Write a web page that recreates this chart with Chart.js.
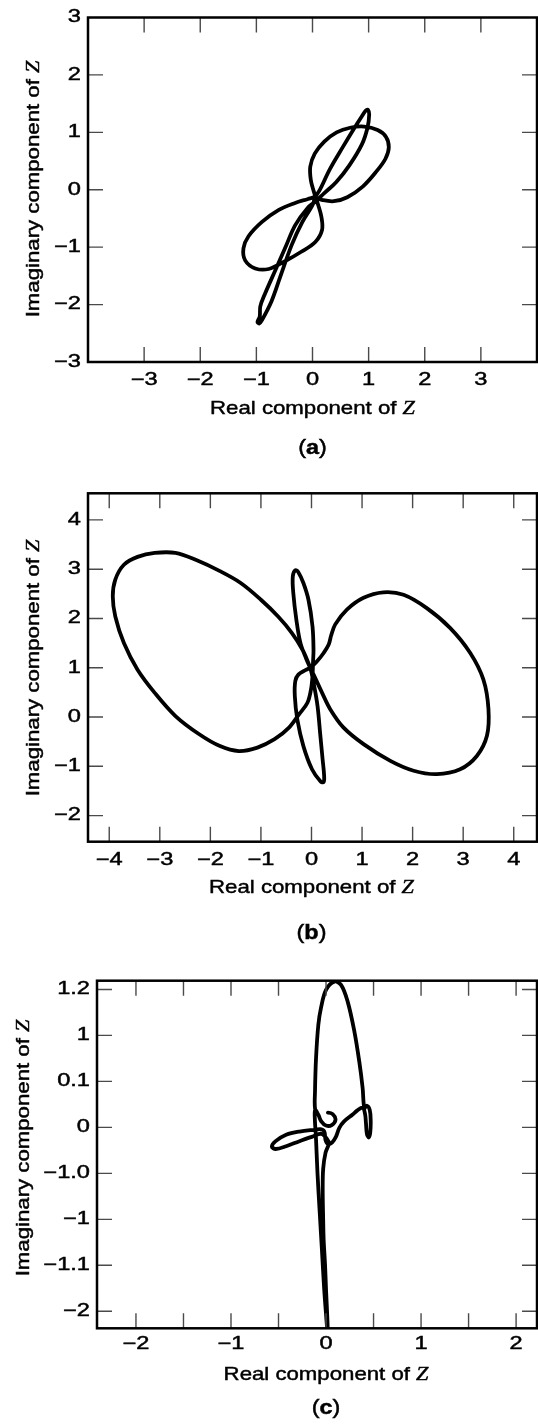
<!DOCTYPE html>
<html>
<head>
<meta charset="utf-8">
<script src="https://cdn.jsdelivr.net/npm/chart.js@4"></script>
<style>
  html, body { margin: 0; padding: 0; background: #fff; }
  #page { position: relative; width: 538px; height: 1425px; }
  canvas { position: absolute; left: 0; }
</style>
</head>
<body>
<div id="page">
  <canvas id="chartA" width="538" height="470" style="top:0;width:538px;height:470px"></canvas>
  <canvas id="chartB" width="538" height="480" style="top:470px;width:538px;height:480px"></canvas>
  <canvas id="chartC" width="538" height="485" style="top:940px;width:538px;height:485px"></canvas>
</div>
<script>
// (a) locus of Z
const realA = [0.03, 0.18, 0.38, 0.62, 0.90, 1.14, 1.30, 1.36, 1.31, 1.16, 0.92, 0.67, 0.43, 0.21, 0.04, -0.04,
  -0.03, 0.02, 0.10, 0.16, 0.17, 0.05, -0.20, -0.50, -0.78, -1.02, -1.20, -1.23, -1.14, -0.90, -0.60, -0.31,
  -0.08, 0.04, 0.12, 0.31, 0.55, 0.73, 0.88, 0.95, 0.99, 1.01, 0.98, 0.88, 0.66, 0.42, 0.21, 0.06,
  -0.09, -0.31, -0.49, -0.67, -0.85, -0.93, -0.94, -0.98, -0.95, -0.90, -0.73, -0.58, -0.37, -0.18, 0.00, 0.04];
const imagA = [-0.13, -0.18, -0.20, -0.13, 0.06, 0.32, 0.54, 0.74, 0.92, 1.04, 1.10, 1.08, 1.00, 0.84, 0.63, 0.40,
  0.17, -0.02, -0.26, -0.48, -0.70, -0.91, -1.08, -1.25, -1.38, -1.37, -1.23, -1.02, -0.81, -0.56, -0.35, -0.23,
  -0.16, -0.12, -0.02, 0.36, 0.76, 1.05, 1.28, 1.38, 1.39, 1.31, 1.08, 0.79, 0.43, 0.13, -0.06, -0.20,
  -0.32, -0.62, -1.02, -1.42, -1.82, -2.03, -2.21, -2.30, -2.33, -2.27, -1.94, -1.53, -0.96, -0.56, -0.27, -0.14];

// (b) locus of Z
const realB = [-0.02, 0.11, 0.24, 0.34, 0.39, 0.47, 0.70, 1.03, 1.42, 1.82, 2.28, 2.74, 3.14, 3.40, 3.50, 3.47,
  3.27, 2.94, 2.48, 2.02, 1.56, 1.03, 0.63, 0.37, 0.21, 0.07, -0.03, -0.18, -0.39, -0.66, -1.00, -1.40,
  -1.81, -2.29, -2.69, -3.10, -3.44, -3.71, -3.88, -3.93, -3.88, -3.71, -3.44, -3.10, -2.69, -2.22, -1.81, -1.44,
  -1.07, -0.73, -0.45, -0.25, -0.08, -0.01, 0.02, 0.03, 0.04, 0.02, -0.06, -0.16, -0.26, -0.32, -0.37, -0.36,
  -0.30, -0.22, -0.10, -0.02, 0.04, 0.12, 0.17, 0.22, 0.25, 0.24, 0.18, 0.01, -0.16, -0.28, -0.33, -0.32,
  -0.26, -0.12, -0.02];
const imagB = [1.00, 1.13, 1.30, 1.47, 1.66, 1.88, 2.18, 2.42, 2.53, 2.48, 2.21, 1.81, 1.30, 0.76, 0.16, -0.38,
  -0.79, -1.06, -1.16, -1.09, -0.89, -0.55, -0.21, 0.16, 0.49, 0.80, 1.02, 1.37, 1.71, 2.04, 2.38, 2.72,
  2.96, 3.19, 3.33, 3.33, 3.25, 3.09, 2.79, 2.45, 2.04, 1.50, 0.96, 0.49, 0.02, -0.35, -0.59, -0.69,
  -0.62, -0.45, -0.22, 0.05, 0.29, 0.56, 0.83, 1.10, 1.37, 1.84, 2.38, 2.72, 2.94, 2.98, 2.85, 2.52,
  1.98, 1.51, 1.17, 0.98, 0.70, 0.22, -0.32, -0.86, -1.19, -1.32, -1.31, -1.06, -0.59, -0.05, 0.43, 0.73,
  0.86, 0.95, 1.00];

// (c) locus of Z, imaginary part in tick steps
const realC = [0.02, 0.005, -0.02, -0.045, -0.065, -0.09, -0.105, -0.118, -0.115, -0.08, -0.05, 0.00, 0.06, 0.10,
  0.07, 0.02, 0.07, 0.10, 0.06, 0.00, -0.05, -0.08, -0.115, -0.116, -0.105, -0.081, -0.053, 0.00, 0.087, 0.158,
  0.227, 0.298, 0.35, 0.385, 0.403, 0.43, 0.46, 0.47, 0.465, 0.45, 0.43, 0.42, 0.41, 0.385, 0.33, 0.28, 0.19,
  0.14, 0.105, 0.063, 0.02, -0.005, -0.018, -0.06, -0.105, -0.28, -0.42, -0.53, -0.57, -0.53, -0.42, -0.28,
  -0.14, -0.05, 0.01, 0.03, -0.005, -0.03, -0.035, -0.03, -0.025, -0.01, 0.00, 0.015, 0.02];
const imagC = [-4.6, -4.2, -3.5, -2.6, -1.9, -0.99, -0.27, 0.20, 0.38, 0.27, 0.13, 0.04, 0.05, 0.17,
  0.29, 0.32, 0.29, 0.17, 0.05, 0.04, 0.13, 0.27, 0.40, 0.78, 1.51, 2.23, 2.60, 2.99, 3.17, 3.10,
  2.74, 2.09, 1.43, 0.86, 0.42, 0.47, 0.38, 0.15, -0.12, -0.22, -0.14, 0.10, 0.30, 0.43, 0.37, 0.28, 0.13,
  -0.01, -0.20, -0.33, -0.36, -0.28, -0.09, -0.04, -0.05, -0.09, -0.16, -0.30, -0.42, -0.47, -0.41, -0.30,
  -0.20, -0.14, -0.25, -0.35, -0.55, -0.90, -1.35, -2.00, -2.44, -3.00, -3.53, -4.20, -4.60];

// tick values and labels
const xTicksA = [-3, -2, -1, 0, 1, 2, 3];
const yTicksA = [-3, -2, -1, 0, 1, 2, 3];
const xTicksB = [-4, -3, -2, -1, 0, 1, 2, 3, 4];
const yTicksB = [-2, -1, 0, 1, 2, 3, 4];
const xTicksC = [-2, -1.5, -1, -0.5, 0, 0.5, 1, 1.5, 2];
const yTicksC = [3, 2, 1, 0, -1, -2, -3, -4];
const yTickLabelsC = ['1.2', '1', '0.1', '0', '\u22121.0', '\u22121', '\u22121.1', '\u22122'];

const SANS = '"Liberation Sans", Arial, Helvetica, sans-serif';
const SERIF = '"Liberation Serif", "Times New Roman", serif';
const TICK_LEN = 15;

// the lettering is set wide and a little heavy: stretch each run and thicken it
let textStretch = 1.35;
const nativeFill = CanvasRenderingContext2D.prototype.fillText;
function wideFill(text, x, y, maxWidth) {
  this.save();
  this.translate(x, y);
  this.scale(textStretch, 1);
  if (maxWidth === undefined) nativeFill.call(this, text, 0, 0);
  else nativeFill.call(this, text, 0, 0, maxWidth / textStretch);
  this.lineWidth = 0.45;
  this.strokeStyle = this.fillStyle;
  this.strokeText(text, 0, 0);
  this.restore();
}

function minus(v) {
  return v < 0 ? '\u2212' + Math.abs(v) : String(v);
}

// text runs with mixed fonts, centred on the origin of the current transform
function drawRuns(ctx, runs, size) {
  const widths = runs.map(r => { ctx.font = r.font; return ctx.measureText(r.text).width * textStretch; });
  let x = -widths.reduce((s, w) => s + w, 0) / 2;
  ctx.textAlign = 'left';
  ctx.textBaseline = 'alphabetic';
  runs.forEach((r, i) => {
    ctx.font = r.font;
    ctx.fillText(r.text, x, size * 0.36);
    x += widths[i];
  });
}

function titleRuns(text, size) {
  return [
    { text: text + ' ', font: `${size}px ${SANS}` },
    { text: 'Z', font: `italic ${size}px ${SERIF}` }
  ];
}

const panelFrame = {
  id: 'panelFrame',
  beforeDraw(chart) {
    textStretch = 1.35;
    chart.ctx.fillText = wideFill;
  },
  afterDatasetsDraw(chart) {
    const { ctx, chartArea: a, scales: { x, y } } = chart;
    ctx.save();
    ctx.strokeStyle = '#4a4a4a';
    ctx.lineWidth = 1.4;
    ctx.beginPath();
    x.ticks.forEach(t => {
      const px = x.getPixelForValue(t.value);
      if (px < a.left + 2 || px > a.right - 2) return;
      ctx.moveTo(px, a.top); ctx.lineTo(px, a.top + TICK_LEN);
      ctx.moveTo(px, a.bottom); ctx.lineTo(px, a.bottom - TICK_LEN);
    });
    y.ticks.forEach(t => {
      const py = y.getPixelForValue(t.value);
      if (py < a.top + 2 || py > a.bottom - 2) return;
      ctx.moveTo(a.left, py); ctx.lineTo(a.left + TICK_LEN, py);
      ctx.moveTo(a.right, py); ctx.lineTo(a.right - TICK_LEN, py);
    });
    ctx.stroke();
    ctx.strokeStyle = '#000';
    ctx.lineWidth = 2.5;
    ctx.strokeRect(a.left, a.top, a.right - a.left, a.bottom - a.top);
    ctx.restore();
  },
  afterDraw(chart, args, opts) {
    const { ctx, scales: { x } } = chart;
    const size = 18.5;
    textStretch = 1.2;
    ctx.save();
    ctx.fillStyle = '#000';
    // x title, centred on Re Z = 0
    ctx.save();
    ctx.translate(x.getPixelForValue(0), opts.xTitleY);
    drawRuns(ctx, titleRuns('Real component of', size), size);
    ctx.restore();
    // y title
    ctx.save();
    ctx.translate(opts.yTitleX, opts.yTitleY);
    ctx.rotate(-Math.PI / 2);
    drawRuns(ctx, titleRuns('Imaginary component of', size), size);
    ctx.restore();
    // panel letter
    const cap = 19.5;
    ctx.save();
    ctx.translate(x.getPixelForValue(0), opts.captionY);
    drawRuns(ctx, [
      { text: '(', font: `${cap}px ${SANS}` },
      { text: opts.letter, font: `bold ${cap}px ${SANS}` },
      { text: ')', font: `${cap}px ${SANS}` }
    ], cap);
    ctx.restore();
    ctx.restore();
    delete ctx.fillText;
  }
};

function makePanel(id, p) {
  const tickFont = { family: SANS, size: 17.5 };
  return new Chart(document.getElementById(id), {
    type: 'scatter',
    data: {
      datasets: [{
        data: p.re.map((v, i) => ({ x: v, y: p.im[i] })),
        showLine: true,
        pointRadius: 0,
        borderColor: '#000',
        borderWidth: 3.8,
        borderJoinStyle: 'round',
        borderCapStyle: 'round',
        tension: 0.35,
        clip: 0
      }]
    },
    options: {
      responsive: false,
      animation: false,
      events: [],
      layout: { padding: { top: p.top, right: 538 - p.right, left: 0, bottom: 0 } },
      plugins: {
        legend: { display: false },
        tooltip: { enabled: false },
        panelFrame: p.text
      },
      scales: {
        x: {
          type: 'linear', min: p.xMin, max: p.xMax,
          afterBuildTicks: s => { s.ticks = p.xTicks.map(v => ({ value: v })); },
          afterFit: s => { s.height = p.height - p.bottom; },
          grid: { display: false, drawTicks: false },
          border: { display: false },
          ticks: {
            padding: p.xPad, color: '#000', font: tickFont, maxRotation: 0, autoSkip: false,
            callback: v => Number.isInteger(v) ? minus(v) : ''
          }
        },
        y: {
          type: 'linear', min: p.yMin, max: p.yMax,
          afterBuildTicks: s => { s.ticks = p.yTicks.map(v => ({ value: v })); },
          afterFit: s => { s.width = p.left; },
          grid: { display: false, drawTicks: false },
          border: { display: false },
          ticks: {
            padding: 7, color: '#000', font: tickFont, autoSkip: false,
            callback: p.yLabel || (v => minus(v))
          }
        }
      }
    },
    plugins: [panelFrame]
  });
}

makePanel('chartA', {
  re: realA, im: imagA, xTicks: xTicksA, yTicks: yTicksA,
  xMin: -4, xMax: 4, yMin: -3, yMax: 3,
  height: 470, top: 14, bottom: 362, left: 88, right: 537, xPad: 8,
  text: { letter: 'a', xTitleY: 407.5, captionY: 446.5, yTitleX: 32.5, yTitleY: 189 }
});

makePanel('chartB', {
  re: realB, im: imagB, xTicks: xTicksB, yTicks: yTicksB,
  xMin: -4.42, xMax: 4.46, yMin: -2.53, yMax: 4.54,
  height: 480, top: 23.3, bottom: 371.7, left: 88, right: 537, xPad: 8,
  text: { letter: 'b', xTitleY: 416.7, captionY: 461.5, yTitleX: 32.5, yTitleY: 198 }
});

makePanel('chartC', {
  re: realC, im: imagC, xTicks: xTicksC, yTicks: yTicksC,
  xMin: -2.41, xMax: 2.22, yMin: -4.37, yMax: 3.19,
  height: 485, top: 40.7, bottom: 388.3, left: 97, right: 537, xPad: 5,
  yLabel: (v, i) => yTickLabelsC[i],
  text: { letter: 'c', xTitleY: 433.3, captionY: 466.7, yTitleX: 22.3, yTitleY: 208 }
});
</script>
</body>
</html>
